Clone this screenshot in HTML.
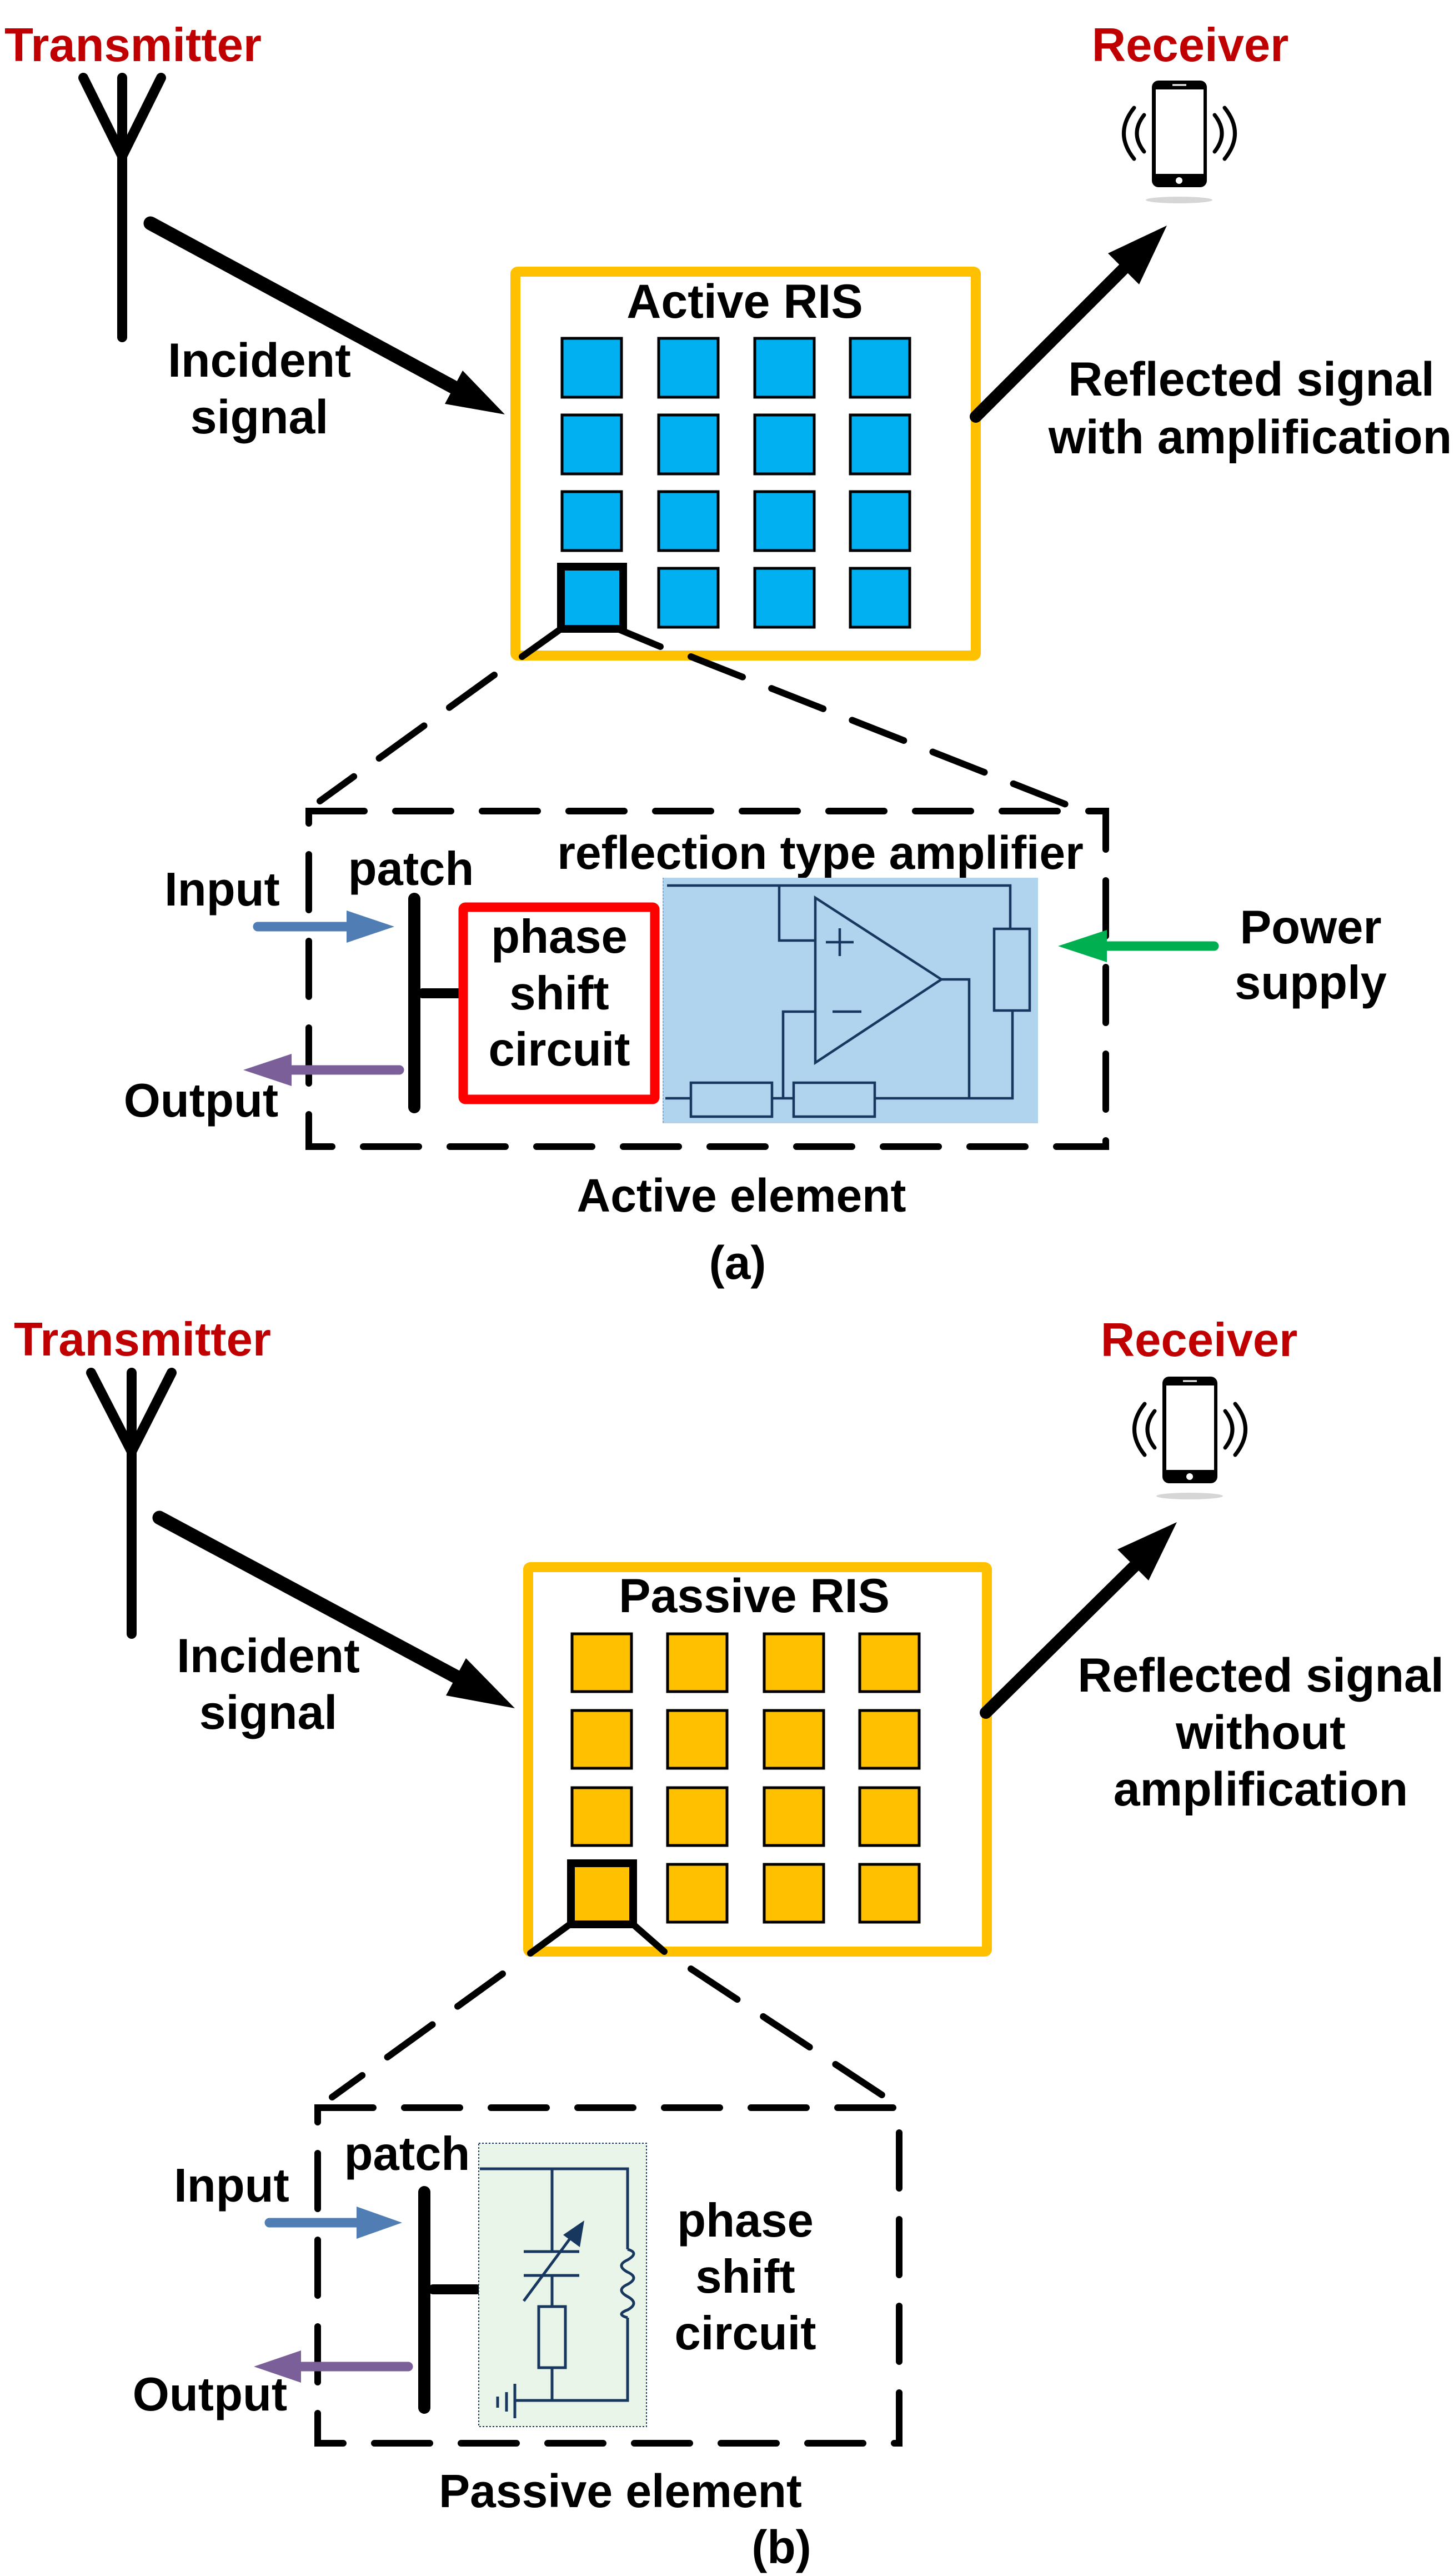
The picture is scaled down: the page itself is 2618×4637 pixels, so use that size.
<!DOCTYPE html>
<html><head><meta charset="utf-8"><style>
html,body{margin:0;padding:0;background:#fff}
svg{display:block}
text{font-family:"Liberation Sans",Arial,sans-serif;font-weight:bold}
</style></head><body>
<svg width="2618" height="4637" viewBox="0 0 2618 4637" xmlns="http://www.w3.org/2000/svg">
<rect width="2618" height="4637" fill="#fff"/>

<!-- ================= TOP (a) ================= -->
<text x="8" y="110" font-size="85" fill="#C00000">Transmitter</text>
<g stroke="#000" stroke-width="18" stroke-linecap="round" fill="none">
  <line x1="220" y1="140" x2="220" y2="607"/>
  <polyline points="150,140 220,281 290,140"/>
</g>
<line x1="271" y1="402" x2="815" y2="696" stroke="#000" stroke-width="25" stroke-linecap="round"/>
<polygon points="909,746 833,667 801,727" fill="#000"/>
<text x="467" y="678" font-size="86" text-anchor="middle">Incident</text>
<text x="467" y="780" font-size="86" text-anchor="middle">signal</text>

<rect x="928" y="489" width="829" height="691" fill="#fff" stroke="#FFC000" stroke-width="18" rx="4"/>
<text x="1341" y="572" font-size="86" text-anchor="middle">Active RIS</text>
<g fill="#00B0F0" stroke="#000" stroke-width="5">
  <rect x="1012" y="609" width="107" height="106"/><rect x="1186" y="609" width="107" height="106"/><rect x="1359" y="609" width="107" height="106"/><rect x="1531" y="609" width="107" height="106"/>
  <rect x="1012" y="747" width="107" height="106"/><rect x="1186" y="747" width="107" height="106"/><rect x="1359" y="747" width="107" height="106"/><rect x="1531" y="747" width="107" height="106"/>
  <rect x="1012" y="885" width="107" height="106"/><rect x="1186" y="885" width="107" height="106"/><rect x="1359" y="885" width="107" height="106"/><rect x="1531" y="885" width="107" height="106"/>
  <rect x="1012" y="1023" width="107" height="106"/><rect x="1186" y="1023" width="107" height="106"/><rect x="1359" y="1023" width="107" height="106"/><rect x="1531" y="1023" width="107" height="106"/>
</g>
<rect x="1010" y="1020" width="112" height="112" fill="none" stroke="#000" stroke-width="14"/>
<g stroke="#000" stroke-width="12" stroke-linecap="round" fill="none">
  <line x1="1010" y1="1132" x2="940" y2="1182"/>
  <line x1="1112" y1="1132" x2="1189" y2="1164"/>
  <line x1="890" y1="1215" x2="576" y2="1442" stroke-dasharray="100 56"/>
  <line x1="1244" y1="1182" x2="1937" y2="1455" stroke-dasharray="100 56"/>
  <rect x="556" y="1460" width="1435" height="604" stroke-dasharray="100 56"/>
</g>

<line x1="1757" y1="750" x2="2035" y2="472" stroke="#000" stroke-width="22" stroke-linecap="round"/>
<polygon points="2101,406 2051,512 1995,456" fill="#000"/>
<text x="2253" y="712" font-size="86" text-anchor="middle">Reflected signal</text>
<text x="2251" y="816" font-size="86" text-anchor="middle">with amplification</text>

<text x="2143" y="110" font-size="85" fill="#C00000" text-anchor="middle">Receiver</text>
<g id="phone">
  <ellipse cx="2123" cy="360" rx="60" ry="6" fill="#bbb" opacity="0.6"/>
  <rect x="2074" y="145" width="99" height="192" rx="12" fill="#000"/>
  <rect x="2081" y="161" width="86" height="152" fill="#fff"/>
  <line x1="2111" y1="153" x2="2136" y2="153" stroke="#fff" stroke-width="3"/>
  <circle cx="2123" cy="325" r="6" fill="#fff"/>
  <g stroke="#000" stroke-width="7" stroke-linecap="round" fill="none">
    <path d="M2042,194 Q2005,240 2042,286"/>
    <path d="M2060,207 Q2034,240 2060,273"/>
    <path d="M2205,194 Q2242,240 2205,286"/>
    <path d="M2187,207 Q2213,240 2187,273"/>
  </g>
</g>

<text x="740" y="1593" font-size="85" text-anchor="middle">patch</text>
<text x="1477" y="1564" font-size="84" text-anchor="middle">reflection type amplifier</text>
<text x="400" y="1630" font-size="85" text-anchor="middle">Input</text>
<text x="362" y="2010" font-size="85" text-anchor="middle">Output</text>
<line x1="464" y1="1668" x2="630" y2="1668" stroke="#4F7DB4" stroke-width="17" stroke-linecap="round"/>
<polygon points="710,1668 624,1639 624,1697" fill="#4F7DB4"/>
<line x1="719" y1="1926" x2="515" y2="1926" stroke="#7A5F99" stroke-width="17" stroke-linecap="round"/>
<polygon points="438,1926 525,1897 525,1955" fill="#7A5F99"/>
<line x1="746" y1="1618" x2="746" y2="1993" stroke="#000" stroke-width="22" stroke-linecap="round"/>
<line x1="761" y1="1788" x2="836" y2="1788" stroke="#000" stroke-width="18" stroke-linecap="round"/>
<rect x="834" y="1633" width="345" height="346" fill="#fff" stroke="#FF0000" stroke-width="17" rx="4"/>
<text x="1007" y="1715" font-size="85" text-anchor="middle">phase</text>
<text x="1007" y="1817" font-size="85" text-anchor="middle">shift</text>
<text x="1007" y="1918" font-size="85" text-anchor="middle">circuit</text>

<rect x="1193" y="1580" width="676" height="442" fill="#B0D3EE"/>
<line x1="1194" y1="1580" x2="1194" y2="2022" stroke="#7fa8cc" stroke-width="2" stroke-dasharray="3 3"/>
<g stroke="#17375E" stroke-width="4.5" fill="none">
  <polyline points="1201,1594 1819,1594 1819,1672"/>
  <rect x="1790" y="1672" width="64" height="147"/>
  <polyline points="1823,1819 1823,1977 1198,1977"/>
  <polyline points="1403,1594 1403,1693 1468,1693"/>
  <polygon points="1468,1616 1468,1913 1695,1763"/>
  <polyline points="1695,1763 1745,1763 1745,1977"/>
  <polyline points="1468,1821 1410,1821 1410,1977"/>
  <rect x="1244" y="1949" width="146" height="61" fill="#B0D3EE"/>
  <rect x="1429" y="1949" width="146" height="61" fill="#B0D3EE"/>
  <line x1="1487" y1="1696" x2="1537" y2="1696"/><line x1="1512" y1="1671" x2="1512" y2="1721"/>
  <line x1="1499" y1="1821" x2="1551" y2="1821"/>
</g>
<line x1="2186" y1="1703" x2="1985" y2="1703" stroke="#00B050" stroke-width="17" stroke-linecap="round"/>
<polygon points="1905,1703 1993,1674 1993,1732" fill="#00B050"/>
<text x="2360" y="1698" font-size="85" text-anchor="middle">Power</text>
<text x="2360" y="1798" font-size="85" text-anchor="middle">supply</text>

<text x="1335" y="2181" font-size="84" text-anchor="middle">Active element</text>
<text x="1328" y="2302" font-size="84" text-anchor="middle">(a)</text>

<!-- ================= BOTTOM (b) ================= -->
<text x="25" y="2440" font-size="85" fill="#C00000">Transmitter</text>
<g stroke="#000" stroke-width="18" stroke-linecap="round" fill="none">
  <line x1="237" y1="2471" x2="237" y2="2941"/>
  <polyline points="164,2471 237,2613 309,2471"/>
</g>
<line x1="287" y1="2732" x2="830" y2="3023" stroke="#000" stroke-width="25" stroke-linecap="round"/>
<polygon points="927,3075 839,2985 803,3052" fill="#000"/>
<text x="483" y="3010" font-size="86" text-anchor="middle">Incident</text>
<text x="483" y="3112" font-size="86" text-anchor="middle">signal</text>

<rect x="951" y="2821" width="826" height="692" fill="#fff" stroke="#FFC000" stroke-width="18" rx="4"/>
<text x="1358" y="2902" font-size="86" text-anchor="middle">Passive RIS</text>
<g fill="#FFC000" stroke="#000" stroke-width="5">
  <rect x="1030" y="2941" width="107" height="104"/><rect x="1202" y="2941" width="107" height="104"/><rect x="1376" y="2941" width="107" height="104"/><rect x="1548" y="2941" width="107" height="104"/>
  <rect x="1030" y="3079" width="107" height="104"/><rect x="1202" y="3079" width="107" height="104"/><rect x="1376" y="3079" width="107" height="104"/><rect x="1548" y="3079" width="107" height="104"/>
  <rect x="1030" y="3218" width="107" height="104"/><rect x="1202" y="3218" width="107" height="104"/><rect x="1376" y="3218" width="107" height="104"/><rect x="1548" y="3218" width="107" height="104"/>
  <rect x="1030" y="3356" width="107" height="104"/><rect x="1202" y="3356" width="107" height="104"/><rect x="1376" y="3356" width="107" height="104"/><rect x="1548" y="3356" width="107" height="104"/>
</g>
<rect x="1028" y="3354" width="112" height="110" fill="none" stroke="#000" stroke-width="14"/>
<g stroke="#000" stroke-width="12" stroke-linecap="round" fill="none">
  <line x1="1026" y1="3464" x2="955" y2="3516"/>
  <line x1="1140" y1="3464" x2="1196" y2="3513"/>
  <line x1="905" y1="3553" x2="598" y2="3775" stroke-dasharray="100 56"/>
  <line x1="1244" y1="3544" x2="1594" y2="3775" stroke-dasharray="100 56"/>
  <rect x="572" y="3794" width="1047" height="604" stroke-dasharray="100 56"/>
</g>

<line x1="1775" y1="3083" x2="2050" y2="2812" stroke="#000" stroke-width="22" stroke-linecap="round"/>
<polygon points="2119,2740 2068,2845 2012,2789" fill="#000"/>
<text x="2270" y="3045" font-size="86" text-anchor="middle">Reflected signal</text>
<text x="2270" y="3148" font-size="86" text-anchor="middle">without</text>
<text x="2270" y="3250" font-size="86" text-anchor="middle">amplification</text>

<text x="2159" y="2441" font-size="85" fill="#C00000" text-anchor="middle">Receiver</text>
<use href="#phone" transform="translate(19,2333)"/>

<text x="733" y="3906" font-size="85" text-anchor="middle">patch</text>
<text x="417" y="3963" font-size="85" text-anchor="middle">Input</text>
<text x="378" y="4339" font-size="85" text-anchor="middle">Output</text>
<line x1="485" y1="4001" x2="650" y2="4001" stroke="#4F7DB4" stroke-width="17" stroke-linecap="round"/>
<polygon points="724,4001 642,3972 642,4030" fill="#4F7DB4"/>
<line x1="735" y1="4260" x2="530" y2="4260" stroke="#7A5F99" stroke-width="17" stroke-linecap="round"/>
<polygon points="457,4260 542,4231 542,4289" fill="#7A5F99"/>
<line x1="764" y1="3946" x2="764" y2="4334" stroke="#000" stroke-width="22" stroke-linecap="round"/>
<line x1="780" y1="4121" x2="858" y2="4121" stroke="#000" stroke-width="18" stroke-linecap="round"/>

<rect x="862" y="3858" width="302" height="510" fill="#EAF5EA" stroke="#17375E" stroke-width="2" stroke-dasharray="3 3"/>
<g stroke="#17375E" stroke-width="5" fill="none">
  <polyline points="864,3904 1130,3904 1130,4049"/>
  <path d="M1130,4049 Q1152,4055 1130,4068 Q1108,4078 1130,4090 Q1152,4100 1130,4112 Q1108,4122 1130,4134 Q1152,4146 1130,4158 Q1108,4166 1130,4172"/>
  <polyline points="1130,4172 1130,4321 927,4321"/>
  <line x1="994" y1="3904" x2="994" y2="4053"/>
  <line x1="943" y1="4053" x2="1043" y2="4053"/>
  <line x1="943" y1="4096" x2="1043" y2="4096"/>
  <line x1="994" y1="4096" x2="994" y2="4152"/>
  <rect x="970" y="4152" width="48" height="110"/>
  <line x1="994" y1="4262" x2="994" y2="4321"/>
  <line x1="943" y1="4142" x2="1035" y2="4018"/>
  <line x1="927" y1="4291" x2="927" y2="4353"/>
  <line x1="912" y1="4306" x2="912" y2="4341"/>
  <line x1="896" y1="4314" x2="896" y2="4334"/>
</g>
<polygon points="1052,3997 1044,4045 1014,4023" fill="#17375E"/>
<text x="1342" y="4026" font-size="85" text-anchor="middle">phase</text>
<text x="1342" y="4127" font-size="85" text-anchor="middle">shift</text>
<text x="1342" y="4229" font-size="85" text-anchor="middle">circuit</text>

<text x="1117" y="4513" font-size="84" text-anchor="middle">Passive element</text>
<text x="1407" y="4614" font-size="84" text-anchor="middle">(b)</text>
</svg>
</body></html>
